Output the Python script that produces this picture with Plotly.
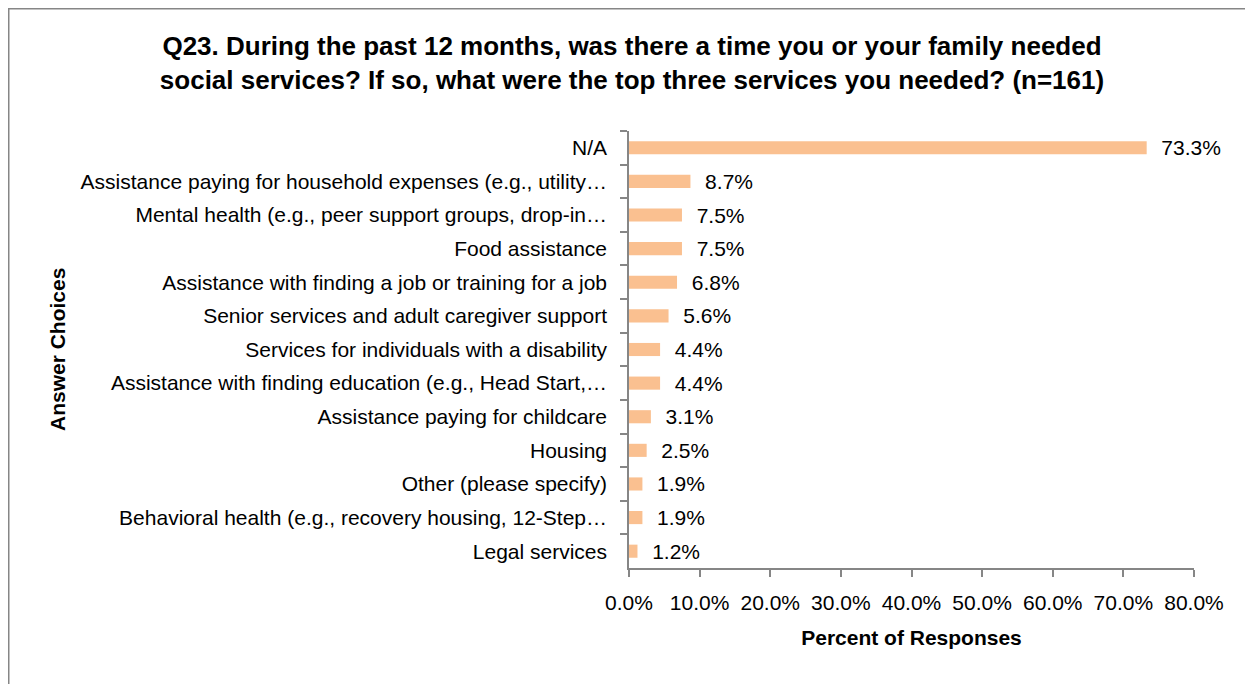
import plotly.graph_objects as go

categories = [
    "N/A",
    "Assistance paying for household expenses (e.g., utility…",
    "Mental health (e.g., peer support groups, drop-in…",
    "Food assistance",
    "Assistance with finding a job or training for a job",
    "Senior services and adult caregiver support",
    "Services for individuals with a disability",
    "Assistance with finding education (e.g., Head Start,…",
    "Assistance paying for childcare",
    "Housing",
    "Other (please specify)",
    "Behavioral health (e.g., recovery housing, 12-Step…",
    "Legal services",
]
values = [73.3, 8.7, 7.5, 7.5, 6.8, 5.6, 4.4, 4.4, 3.1, 2.5, 1.9, 1.9, 1.2]
x_ticks = [0, 10, 20, 30, 40, 50, 60, 70, 80]
x_tick_text = [f"{v:.1f}%" for v in x_ticks]

FONT = "Liberation Sans Narrow, Arial Narrow, Liberation Sans, Arial, sans-serif"
OFF = 8  # page body margin
W, H = 1253 - OFF, 684 - OFF
L, T = 629 - OFF, 131 - OFF
R, B = W - (1194 - OFF), H - (568 - OFF)
pw, ph = W - L - R, H - T - B

fig = go.Figure(go.Bar(
    x=values,
    y=categories,
    orientation="h",
    marker=dict(color="#FAC090", line=dict(width=0)),
    text=["\u00a0\u00a0" + f"{v:.1f}%" for v in values],
    textposition="outside",
    constraintext="none",
    textfont=dict(family=FONT, size=21, color="#000000"),
    cliponaxis=False,
    width=0.39,
))

fig.update_layout(
    width=W, height=H,
    margin=dict(l=L, r=R, t=T, b=B, autoexpand=False),
    paper_bgcolor="white", plot_bgcolor="white",
    font=dict(family=FONT, size=21, color="#000000"),
    showlegend=False,
    title=dict(
        text="<b>Q23. During the past 12 months, was there a time you or your family needed<br>social services? If so, what were the top three services you needed? (n=161)</b>",
        x=(632 - OFF) / W, xanchor="center", y=1 - (55 - OFF) / H, yanchor="middle",
        font=dict(family=FONT, size=26, color="#000000"),
    ),
    xaxis=dict(
        range=[0, 80], tickvals=x_ticks, ticktext=x_tick_text,
        showgrid=False, zeroline=False,
        showline=True, linecolor="#868686", linewidth=1.5,
        ticks="outside", ticklen=7, tickcolor="#868686", tickwidth=1.5,
        ticklabelstandoff=8,
        tickfont=dict(family=FONT, size=21),
        title=dict(text="<b>Percent of Responses</b>", font=dict(family=FONT, size=21), standoff=17),
    ),
    yaxis=dict(
        type="category", categoryorder="array", categoryarray=categories,
        autorange="reversed",
        showgrid=False, zeroline=False,
        showline=True, linecolor="#868686", linewidth=1.5,
        ticks="outside", ticklen=7, tickcolor="#868686", tickwidth=1.5,
        tickson="boundaries",
        ticklabelstandoff=16,
        tickfont=dict(family=FONT, size=21),
    ),
    annotations=[dict(
        text="<b>Answer Choices</b>", textangle=-90,
        xref="paper", yref="paper",
        x=(57 - OFF - L) / pw, y=1 - (350 - 131) / ph,
        xanchor="center", yanchor="middle", showarrow=False,
        font=dict(family=FONT, size=21, color="#000000"),
    )],
)

fig.add_shape(
    type="rect", xref="paper", yref="paper",
    x0=(0.5 - L) / pw, x1=(W + 10 - L) / pw,
    y0=1 + (T - 0.5) / ph, y1=-(B + 10) / ph,
    line=dict(color="#868686", width=2), fillcolor="rgba(0,0,0,0)", layer="below",
)

fig.write_html("out.html")
